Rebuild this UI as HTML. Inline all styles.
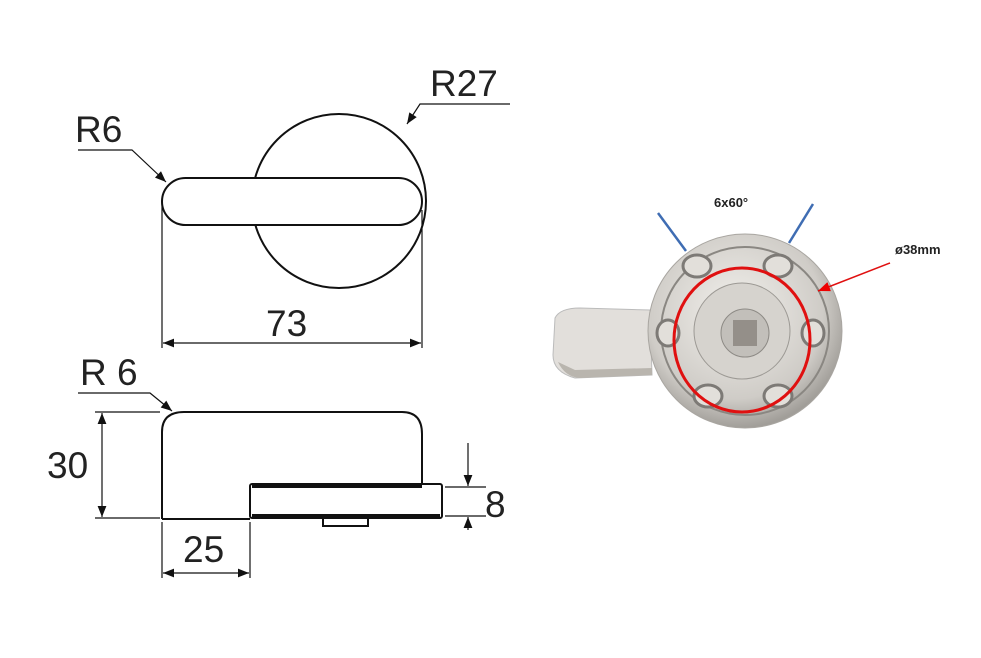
<!DOCTYPE html>
<html><head><meta charset="utf-8"><style>body{margin:0;background:#fff}svg{display:block}</style></head><body>
<svg width="981" height="658" viewBox="0 0 981 658" xmlns="http://www.w3.org/2000/svg">
<defs>
<marker id="a" viewBox="0 0 10 10" refX="10" refY="5" markerWidth="13" markerHeight="11" orient="auto-start-reverse" markerUnits="userSpaceOnUse"><path d="M0,1 L10,5 L0,9z" fill="#111"/></marker>
<marker id="r" viewBox="0 0 10 10" refX="10" refY="5" markerWidth="12" markerHeight="12" orient="auto" markerUnits="userSpaceOnUse"><path d="M0,1 L10,5 L0,9z" fill="#e00"/></marker>
<radialGradient id="g" cx="0.45" cy="0.4" r="0.6"><stop offset="0" stop-color="#f2f0ec"/><stop offset="0.75" stop-color="#cfccc7"/><stop offset="1" stop-color="#a19e99"/></radialGradient>
</defs>
<g fill="none" stroke="#111" stroke-width="2">
<circle cx="339" cy="201" r="87"/>
<rect x="162" y="178" width="260" height="47" rx="23.5" fill="#fff"/>
</g>
<g stroke="#111" stroke-width="1.2" fill="none">
<line x1="162" y1="200" x2="162" y2="348"/><line x1="422" y1="210" x2="422" y2="348"/>
<line x1="163" y1="343" x2="421" y2="343" marker-start="url(#a)" marker-end="url(#a)"/>
<polyline points="78,150 132,150 166,182" marker-end="url(#a)"/>
<polyline points="510,104 420,104 407,124" marker-end="url(#a)"/>
<polyline points="78,393 150,393 172,411" marker-end="url(#a)"/>
<line x1="95" y1="412" x2="160" y2="412"/><line x1="95" y1="518" x2="160" y2="518"/>
<line x1="102" y1="413" x2="102" y2="517" marker-start="url(#a)" marker-end="url(#a)"/>
<line x1="162" y1="522" x2="162" y2="578"/><line x1="250" y1="522" x2="250" y2="578"/>
<line x1="163" y1="573" x2="249" y2="573" marker-start="url(#a)" marker-end="url(#a)"/>
<line x1="445" y1="487" x2="486" y2="487"/><line x1="445" y1="516" x2="486" y2="516"/>
<line x1="468" y1="443" x2="468" y2="486" marker-end="url(#a)"/>
<line x1="468" y1="530" x2="468" y2="517" marker-end="url(#a)"/>
</g>
<g stroke="#111" stroke-width="2" fill="#fff">
<path d="M162,519 L162,432 Q162,412 184,412 L402,412 Q422,412 422,434 L422,484"/>
<rect x="323" y="518" width="45" height="8"/>
<rect x="250" y="484" width="192" height="34" rx="2"/>
<line x1="252" y1="486" x2="422" y2="486" stroke-width="4"/>
<line x1="252" y1="516" x2="440" y2="516" stroke-width="4"/>
<line x1="162" y1="519" x2="250" y2="519"/>
</g>
<g font-family="Liberation Sans, sans-serif" font-size="37" fill="#222">
<text x="75" y="142">R6</text><text x="430" y="96">R27</text>
<text x="266" y="336">73</text><text x="80" y="385">R 6</text>
<text x="47" y="478">30</text><text x="183" y="562">25</text><text x="485" y="517">8</text>
</g>
<path d="M555,318 Q560,308 580,308 L650,310 L652,375 L575,378 Q553,372 553,355z" fill="#e2dfdb" stroke="#bbb"/>
<path d="M558,362 Q565,377 580,378 L652,375 L652,368 L575,370z" fill="#b9b5ae"/>
<circle cx="745" cy="331" r="97" fill="url(#g)" stroke="#a9a6a1"/>
<circle cx="745" cy="331" r="84" fill="none" stroke="#8a8782" stroke-width="2"/>
<g fill="#e2dfda" stroke="#7d7a76" stroke-width="3">
<ellipse cx="697" cy="266" rx="14" ry="11"/><ellipse cx="778" cy="266" rx="14" ry="11"/>
<ellipse cx="668" cy="333" rx="11" ry="13"/><ellipse cx="813" cy="333" rx="11" ry="13"/>
<ellipse cx="708" cy="396" rx="14" ry="11"/><ellipse cx="778" cy="396" rx="14" ry="11"/>
</g>
<circle cx="742" cy="331" r="48" fill="#d6d3ce" stroke="#9c9994"/>
<circle cx="745" cy="333" r="24" fill="#c2bfba" stroke="#8d8a85"/>
<rect x="733" y="320" width="24" height="26" fill="#948f89"/>
<ellipse cx="742" cy="340" rx="68" ry="72" fill="none" stroke="#e01010" stroke-width="3"/>
<line x1="658" y1="213" x2="686" y2="251" stroke="#3f6db3" stroke-width="2.5"/>
<line x1="813" y1="204" x2="789" y2="243" stroke="#3f6db3" stroke-width="2.5"/>
<line x1="890" y1="263" x2="818" y2="291" stroke="#e01010" stroke-width="1.5" marker-end="url(#r)"/>
<g font-family="Liberation Sans, DejaVu Sans, sans-serif" font-size="13" font-weight="bold" fill="#222">
<text x="714" y="207">6x60°</text><text x="895" y="254">ø38mm</text>
</g>
</svg>
</body></html>
